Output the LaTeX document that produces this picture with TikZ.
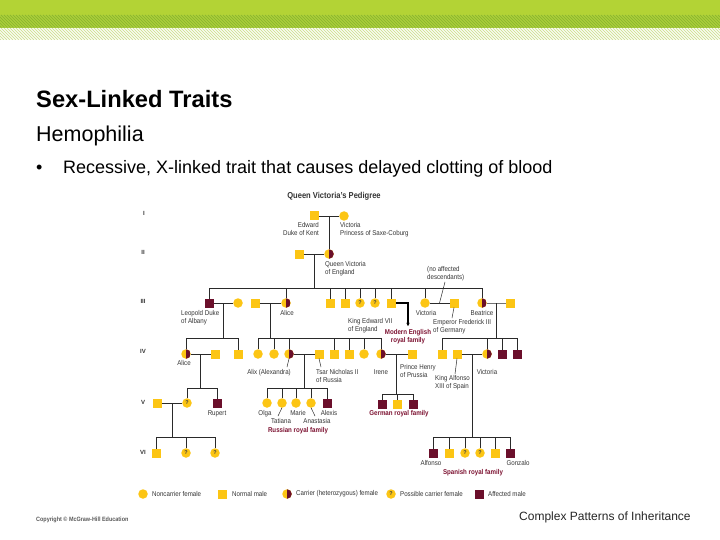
\documentclass[tikz,border=0pt]{standalone}
\usepackage{fontspec}
\setmainfont{Liberation Sans}
\newfontfamily\labfont[FakeStretch=0.88]{Liberation Sans}
\usetikzlibrary{calc,arrows.meta}
\definecolor{yel}{HTML}{FCC514}
\definecolor{affc}{HTML}{6B0F2B}
\definecolor{redlab}{HTML}{7D1332}
\definecolor{lab}{HTML}{353535}
\definecolor{ln}{HTML}{2A2A2A}
\definecolor{hdrA}{HTML}{B3D335}
\definecolor{hdrB}{HTML}{B0D23C}
\definecolor{hdrC}{HTML}{8DB82E}
\definecolor{hdrD}{HTML}{D3E39A}
\tikzset{
 sym/.style={inner sep=0pt, draw=none, outer sep=0pt},
 fem/.style={sym, circle, fill=yel, minimum size=9.5pt},
 male/.style={sym, rectangle, fill=yel, minimum size=9pt},
 affm/.style={sym, rectangle, fill=affc, minimum size=9pt},
 carrier/.style={fem, path picture={\fill[affc] (path picture bounding box.north) rectangle (path picture bounding box.south east);}},
 poss/.style={fem, font=\fontsize{5.5}{5.5}\selectfont\bfseries, text=black!75},
 lbl/.style={font=\labfont\fontsize{7}{8}\selectfont, text=lab, inner sep=0pt, align=left},
 lblc/.style={font=\labfont\fontsize{7}{8}\selectfont, text=lab, inner sep=0pt, anchor=base},
 fam/.style={font=\labfont\fontsize{7}{8}\selectfont\bfseries, text=redlab, inner sep=0pt, align=center},
 gen/.style={font=\fontsize{6}{6}\selectfont\bfseries, text=lab, inner sep=0pt},
 rel/.style={draw=ln, line width=0.85pt},
 lead/.style={draw=ln, line width=0.5pt},
}
\begin{document}
\begin{tikzpicture}[x=1pt,y=-1pt]
\useasboundingbox (0,0) rectangle (720,540);
\fill[white] (0,0) rectangle (720,540);
% header band
\fill[hdrA] (0,0) rectangle (720,15);
\fill[hdrB] (0,15) rectangle (720,28);
\begin{scope}
\clip (0,15) rectangle (720,28);
\foreach \i in {-20,-17,...,730} \draw[hdrC, line width=1pt] (\i,15) -- ++(13,13);
\end{scope}
\begin{scope}
\clip (0,28) rectangle (720,40);
\foreach \i in {-20,-17,...,730} \draw[hdrD, line width=1pt] (\i,28) -- ++(12,12);
\end{scope}
% slide text
\node[anchor=base west, font=\fontsize{23.7}{28}\selectfont\bfseries, inner sep=0pt] (title) at (36,107.5) {Sex-Linked Traits};
\node[anchor=base west, font=\fontsize{21.5}{26}\selectfont, inner sep=0pt] (sub) at (36,141.5) {Hemophilia};
\node[anchor=base west, font=\fontsize{18}{22}\selectfont, inner sep=0pt] (bul) at (36,173.5) {\textbullet};
\node[anchor=base west, font=\fontsize{18}{22}\selectfont, inner sep=0pt] (btxt) at (63,173.5) {Recessive, X-linked trait that causes delayed clotting of blood};
\node[anchor=base west, font=\fontsize{12}{14}\selectfont, inner sep=0pt, text=black!85] (foot) at (519,520) {Complex Patterns of Inheritance};
\node[anchor=base west, font=\labfont\fontsize{6.2}{7}\selectfont\bfseries, inner sep=0pt, text=black!65] (copy) at (36,521) {Copyright © McGraw-Hill Education};
% pedigree title and generations
\node[font=\labfont\fontsize{8.6}{9}\selectfont\bfseries, text=black!80, inner sep=0pt] (pt) at (334,196) {Queen Victoria’s Pedigree};
\node[gen] (gI) at (144,213) {I};
\node[gen] (gII) at (143,252) {II};
\node[gen] (gIII) at (143,301) {III};
\node[gen] (gIV) at (143,351) {IV};
\node[gen] (gV) at (143,402) {V};
\node[gen] (gVI) at (143,452) {VI};
% generation I
\node[male] (edw) at (314,216) {};
\node[fem] (vic1) at (344,216) {};
% generation II
\node[male] (alb) at (299,254) {};
\node[carrier] (qv) at (329,254) {};
% generation III
\node[affm] (leo) at (209,303) {};
\node[fem] (lwife) at (238,303) {};
\node[male] (lou) at (255,303) {};
\node[carrier] (alice3) at (286,303) {};
\node[male] (c3a) at (330,303) {};
\node[male] (c3b) at (345,303) {};
\node[poss] (c3c) at (360,303) {?};
\node[poss] (c3d) at (375,303) {?};
\node[male] (edw7) at (391,303) {};
\node[fem] (vic3) at (425,303) {};
\node[male] (fred) at (454,303) {};
\node[carrier] (bea) at (482,303) {};
\node[male] (bhus) at (510,303) {};
% generation IV
\node[carrier] (alice4) at (186,354) {};
\node[male] (teck) at (215,354) {};
\node[male] (charles) at (238,354) {};
\node[fem] (v4a) at (258,354) {};
\node[fem] (v4b) at (274,354) {};
\node[carrier] (alix) at (289,354) {};
\node[male] (nich) at (319,354) {};
\node[male] (a4c) at (334,354) {};
\node[male] (a4d) at (349,354) {};
\node[fem] (a4e) at (364,354) {};
\node[carrier] (irene) at (381,354) {};
\node[male] (henry) at (412,354) {};
\node[male] (b4a) at (442,354) {};
\node[male] (alf13) at (457,354) {};
\node[carrier] (vic4) at (487,354) {};
\node[affm] (b4c) at (502,354) {};
\node[affm] (b4d) at (517,354) {};
% generation V
\node[male] (sq5) at (157,403) {};
\node[poss] (poss5) at (187,403) {?};
\node[affm] (rupert) at (217,403) {};
\node[fem] (olga) at (267,403) {};
\node[fem] (tatiana) at (282,403) {};
\node[fem] (marie) at (296,403) {};
\node[fem] (anast) at (311,403) {};
\node[affm] (alexis) at (327,403) {};
\node[affm] (ge1) at (382,404) {};
\node[male] (ge2) at (397,404) {};
\node[affm] (ge3) at (413,404) {};
% generation VI
\node[male] (sq6) at (156,453) {};
\node[poss] (p6a) at (186,453) {?};
\node[poss] (p6b) at (215,453) {?};
\node[affm] (sp1) at (433,453) {};
\node[male] (sp2) at (449,453) {};
\node[poss] (sp3) at (465,453) {?};
\node[poss] (sp4) at (480,453) {?};
\node[male] (sp5) at (495,453) {};
\node[affm] (sp6) at (510,453) {};
% sibship levels
\coordinate (y3) at (0,288);
\coordinate (y4) at (0,338);
\coordinate (y5) at (0,388);
\coordinate (y5g) at (0,394);
\coordinate (y6) at (0,437);
% marriages
\draw[rel] (edw.east) -- (vic1.west);
\draw[rel] (alb.east) -- (qv.west);
\draw[rel] (leo.east) -- (lwife.west);
\draw[rel] (lou.east) -- (alice3.west);
\draw[rel] (vic3.east) -- (fred.west);
\draw[rel, draw=black!55] (bea.east) -- (bhus.west);
\draw[rel] (alice4.east) -- (teck.west);
\draw[rel] (alix.east) -- (nich.west);
\draw[rel] (irene.east) -- (henry.west);
\draw[rel] (alf13.east) -- (vic4.west);
\draw[rel] (sq5.east) -- (poss5.west);
\path ($(edw)!.5!(vic1)$) coordinate (mI);
\path ($(alb)!.5!(qv)$) coordinate (mII);
\path ($(leo)!.5!(lwife)$) coordinate (mLeo);
\path ($(lou)!.5!(alice3)$) coordinate (mAl);
\path ($(vic3)!.5!(fred)$) coordinate (mVic);
\path ($(bea)!.5!(bhus)$) coordinate (mBea);
\path ($(alice4)!.5!(teck)$) coordinate (mA4);
\path ($(alix)!.5!(nich)$) coordinate (mAlix);
\path ($(irene)!.5!(henry)$) coordinate (mIr);
\path ($(alf13)!.5!(vic4)$) coordinate (mAlf);
\path ($(sq5)!.5!(poss5)$) coordinate (mV);
% descent lines
\draw[rel] (mI) -- (qv.north);
\draw[rel] (mII) -- (mII |- y3);
\draw[rel] (leo.north |- y3) -- (bea.north |- y3);
\foreach \c in {leo,alice3,c3a,c3b,c3c,c3d,edw7,vic3,bea} \draw[rel] (\c.north) -- (\c.north |- y3);
\draw[rel] (mLeo) -- (mLeo |- y4);
\draw[rel] (alice4.north |- y4) -- (charles.north |- y4);
\foreach \c in {alice4,charles} \draw[rel] (\c.north) -- (\c.north |- y4);
\draw[rel] (mAl) -- (mAl |- y4);
\draw[rel] (v4a.north |- y4) -- (irene.north |- y4);
\foreach \c in {v4a,v4b,alix,a4c,a4d,a4e,irene} \draw[rel] (\c.north) -- (\c.north |- y4);
\draw[rel] (mBea) -- (mBea |- y4);
\draw[rel] (b4a.north |- y4) -- (b4d.north |- y4);
\foreach \c in {b4a,vic4,b4c,b4d} \draw[rel] (\c.north) -- (\c.north |- y4);
\draw[rel] (mA4) -- (mA4 |- y5);
\draw[rel] (poss5.north |- y5) -- (rupert.north |- y5);
\foreach \c in {poss5,rupert} \draw[rel] (\c.north) -- (\c.north |- y5);
\draw[rel] (mAlix) -- (mAlix |- y5);
\draw[rel] (olga.north |- y5) -- (alexis.north |- y5);
\foreach \c in {olga,tatiana,marie,anast,alexis} \draw[rel] (\c.north) -- (\c.north |- y5);
\draw[rel] (mIr) -- (mIr |- y5g);
\draw[rel] (ge1.north |- y5g) -- (ge3.north |- y5g);
\foreach \c in {ge1,ge2,ge3} \draw[rel] (\c.north) -- (\c.north |- y5g);
\draw[rel] (mV) -- (mV |- y6);
\draw[rel] (sq6.north |- y6) -- (p6b.north |- y6);
\foreach \c in {sq6,p6a,p6b} \draw[rel] (\c.north) -- (\c.north |- y6);
\draw[rel] (mAlf) -- (mAlf |- y6);
\draw[rel] (sp1.north |- y6) -- (sp6.north |- y6);
\foreach \c in {sp1,sp2,sp3,sp4,sp5,sp6} \draw[rel] (\c.north) -- (\c.north |- y6);
% labels
\node[lbl, anchor=north east, align=right] (edwl) at (319,222.2) {Edward\\Duke of Kent};
\node[lbl, anchor=north west] (vic1l) at (340,222.2) {Victoria\\Princess of Saxe-Coburg};
\node[lbl, anchor=north west] (qvl) at (325,261.2) {Queen Victoria\\of England};
\node[lbl, anchor=north west] (noaff) at (427,266.5) {(no affected\\descendants)};
\node[lbl, anchor=north west] (leol) at (181,310.2) {Leopold Duke\\of Albany};
\node[lblc] (al3l) at (287,315.5) {Alice};
\node[lbl, anchor=north west] (e7l) at (348,318.5) {King Edward VII\\of England};
\node[lblc] (v3l) at (426,315.5) {Victoria};
\node[lbl, anchor=north west] (frl) at (433,319) {Emperor Frederick III\\of Germany};
\node[lblc] (beal) at (482,315.5) {Beatrice};
\node[fam, anchor=north] (modern) at (408,329.2) {Modern English\\royal family};
\node[lblc] (al4l) at (184,365.5) {Alice};
\node[lblc] (alixl) at (269,374.5) {Alix (Alexandra)};
\node[lbl, anchor=north west] (nichl) at (316,369.2) {Tsar Nicholas II\\of Russia};
\node[lblc] (irl) at (381,374.5) {Irene};
\node[lbl, anchor=north west] (henl) at (400,364.2) {Prince Henry\\of Prussia};
\node[lbl, anchor=north west] (alfl) at (435,375.2) {King Alfonso\\XIII of Spain};
\node[lblc] (v4l) at (487,374.5) {Victoria};
\node[lblc] (rupl) at (217,415.5) {Rupert};
\node[lblc] (olgl) at (265,415.5) {Olga};
\node[lblc] (tatl) at (281,423.5) {Tatiana};
\node[lblc] (marl) at (298,415.5) {Marie};
\node[lblc] (anal) at (317,423.5) {Anastasia};
\node[lblc] (alel) at (329,415.5) {Alexis};
\node[fam, anchor=base] (russ) at (298,432.5) {Russian royal family};
\node[fam, anchor=base] (germ) at (399,415.5) {German royal family};
\node[lblc] (alfol) at (431,465.5) {Alfonso};
\node[lblc] (gonl) at (518,465.5) {Gonzalo};
\node[fam, anchor=base] (span) at (473,474.5) {Spanish royal family};
% Edward VII arrow
\draw[draw=black, line width=1.3pt, -{Stealth[length=3.5pt,width=3.5pt]}] (edw7.east) -| ($(modern.north)+(0,-3)$);
% leaders
\coordinate (frp) at (452,318);
\coordinate (alixp) at (287,367);
\coordinate (nichp) at (321,367);
\coordinate (alfp) at (455,374);
\coordinate (tatp) at (278,416);
\coordinate (anap) at (315,416);
\coordinate (noaffp) at (445,282);
\draw[lead] (fred.south) -- (frp);
\draw[lead] (alix.south) -- (alixp);
\draw[lead] (nich.south) -- (nichp);
\draw[lead] (alf13.south) -- (alfp);
\draw[lead] (tatiana.south) -- (tatp);
\draw[lead] (anast.south) -- (anap);
\draw[lead] (noaffp) -- (mVic);
% legend
\node[fem] (lg1) at (143,494) {};
\node[lbl, anchor=west] (lg1t) at (152,494) {Noncarrier female};
\node[male] (lg2) at (222,494) {};
\node[lbl, anchor=west] (lg2t) at (232,494) {Normal male};
\node[carrier] (lg3) at (287,494) {};
\node[lbl, anchor=west] (lg3t) at (296,494) {Carrier (heterozygous) female};
\node[poss] (lg4) at (391,494) {?};
\node[lbl, anchor=west] (lg4t) at (400,494) {Possible carrier female};
\node[affm] (lg5) at (479,494) {};
\node[lbl, anchor=west] (lg5t) at (488,494) {Affected male};
\end{tikzpicture}
\end{document}
